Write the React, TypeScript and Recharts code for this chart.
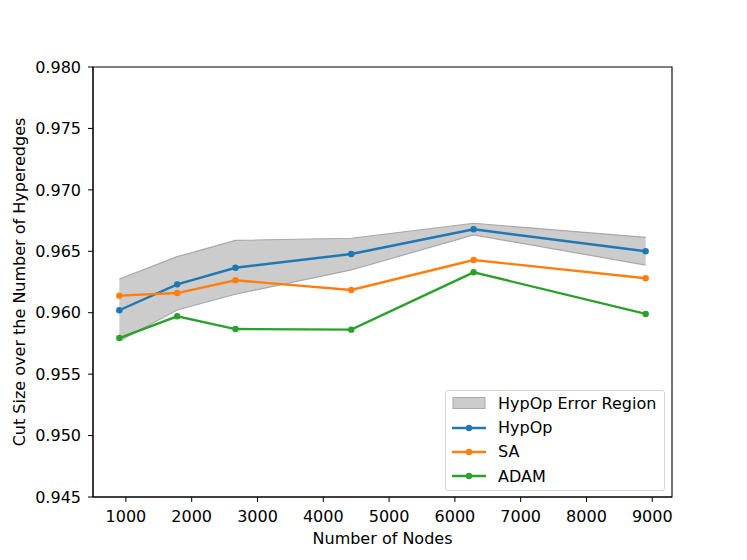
import React from 'react';
import {
    ComposedChart, Area, Line, XAxis, YAxis, Legend, ReferenceArea
} from 'recharts';

// values
const nodes = [900, 1780, 2665, 4425, 6285, 8900];
const hypop = [0.96020, 0.96231, 0.96366, 0.96478, 0.96679, 0.96500];
const sa = [0.96139, 0.96160, 0.96264, 0.96185, 0.96429, 0.96280];
const adam = [0.95794, 0.95971, 0.95867, 0.95862, 0.96329, 0.95990];
const errLow = [0.95770, 0.96022, 0.96150, 0.96348, 0.96633, 0.96388];
const errHigh = [0.96274, 0.96456, 0.96589, 0.96606, 0.96728, 0.96614];

const xTicks = [1000, 2000, 3000, 4000, 5000, 6000, 7000, 8000, 9000];
const yTicks = [0.945, 0.950, 0.955, 0.960, 0.965, 0.970, 0.975, 0.980];

const X_DOMAIN = [500, 9300];
const Y_DOMAIN = [0.945, 0.980];

const FONT = '"DejaVu Sans", sans-serif';
const BLUE = '#1f77b4';
const ORANGE = '#ff7f0e';
const GREEN = '#2ca02c';

const data = nodes.map((n, i) => ({
    n,
    hypop: hypop[i],
    sa: sa[i],
    adam: adam[i],
    err: [errLow[i], errHigh[i]],
}));

const legendItems = [
    { name: 'HypOp Error Region', color: '#cccccc', patch: true },
    { name: 'HypOp', color: BLUE, patch: false },
    { name: 'SA', color: ORANGE, patch: false },
    { name: 'ADAM', color: GREEN, patch: false },
];

function LegendBox() {
    return (
        <div style={{
            width: 218, height: 99, border: '1px solid #d6d6d6', borderRadius: 3,
            background: 'rgba(255,255,255,0.8)', fontFamily: FONT, fontSize: 16, color: '#000',
            boxSizing: 'content-box', paddingTop: 0,
        }}>
            {legendItems.map(it => (
                <div key={it.name} style={{ height: 24.4, display: 'flex', alignItems: 'center' }}>
                    <svg width={52} height={20} style={{ flex: 'none' }}>
                        {it.patch ? (
                            <rect x={7} y={4.5} width={32} height={11} fill={it.color} stroke="#aaaaaa" strokeWidth={1} />
                        ) : (
                            <g>
                                <line x1={6} x2={40} y1={10} y2={10} stroke={it.color} strokeWidth={2.4} />
                                <circle cx={23} cy={10} r={3.2} fill={it.color} />
                            </g>
                        )}
                    </svg>
                    <span style={{ whiteSpace: 'nowrap' }}>{it.name}</span>
                </div>
            ))}
        </div>
    );
}

export default function App() {
    return (
        <div style={{ position: 'absolute', left: 0, top: 0, width: 747, height: 560, background: '#fff' }}>
            <ComposedChart
                width={747}
                height={560}
                data={data}
                margin={{ top: 67, right: 75, bottom: 0, left: 0 }}
            >
                <XAxis
                    dataKey="n"
                    type="number"
                    domain={X_DOMAIN}
                    ticks={xTicks}
                    allowDataOverflow
                    height={63}
                    stroke="#000"
                    tickSize={5}
                    tickMargin={9}
                    tick={{ fill: '#000', fontSize: 16, fontFamily: FONT }}
                    label={({ viewBox }: any) => (
                        <text x={viewBox.x + viewBox.width / 2} y={544} textAnchor="middle"
                            fontSize={16} fontFamily={FONT} fill="#000">Number of Nodes</text>
                    )}
                />
                <YAxis
                    type="number"
                    domain={Y_DOMAIN}
                    ticks={yTicks}
                    allowDataOverflow
                    width={93}
                    stroke="#000"
                    tickSize={5}
                    tickMargin={7}
                    tickFormatter={(v: number) => v.toFixed(3)}
                    tick={{ fill: '#000', fontSize: 16, fontFamily: FONT }}
                    label={({ viewBox }: any) => (
                        <text x={25} y={viewBox.y + viewBox.height / 2} textAnchor="middle"
                            transform={`rotate(-90, 25, ${viewBox.y + viewBox.height / 2})`}
                            fontSize={16} fontFamily={FONT} fill="#000">Cut Size over the Number of Hyperedges</text>
                    )}
                />
                <Area
                    type="linear"
                    dataKey="err"
                    fill="#808080"
                    fillOpacity={0.4}
                    stroke="#a8a8a8"
                    strokeWidth={1.2}
                    isAnimationActive={false}
                    activeDot={false}
                />
                <Line type="linear" dataKey="hypop" stroke={BLUE} strokeWidth={2.4}
                    dot={{ r: 3.2, fill: BLUE, stroke: BLUE, strokeWidth: 0 }} activeDot={false} isAnimationActive={false} />
                <Line type="linear" dataKey="sa" stroke={ORANGE} strokeWidth={2.4}
                    dot={{ r: 3.2, fill: ORANGE, stroke: ORANGE, strokeWidth: 0 }} activeDot={false} isAnimationActive={false} />
                <Line type="linear" dataKey="adam" stroke={GREEN} strokeWidth={2.4}
                    dot={{ r: 3.2, fill: GREEN, stroke: GREEN, strokeWidth: 0 }} activeDot={false} isAnimationActive={false} />
                {/* plot frame (matplotlib draws all four spines) */}
                <ReferenceArea x1={X_DOMAIN[0]} x2={X_DOMAIN[1]} y1={Y_DOMAIN[0]} y2={Y_DOMAIN[1]}
                    fill="none" fillOpacity={0} stroke="#000" strokeWidth={1.1} />
                <Legend
                    layout="vertical"
                    align="center"
                    verticalAlign="middle"
                    content={() => <LegendBox />}
                    wrapperStyle={{ left: 445, top: 390, width: 220, height: 100 }}
                />
            </ComposedChart>
        </div>
    );
}
